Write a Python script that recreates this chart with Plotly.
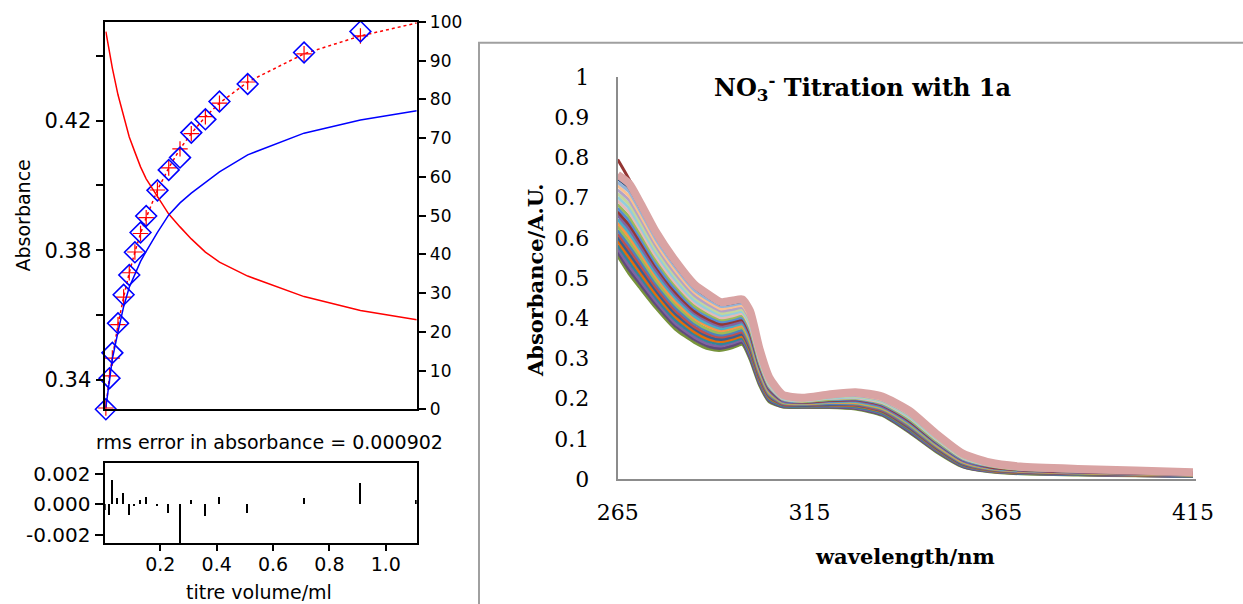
import plotly.graph_objects as go

# ---------------- left panel data (titration fit) ----------------
titre_ml = [0.007, 0.02, 0.03, 0.05, 0.07, 0.09, 0.11, 0.13, 0.15, 0.19, 0.23, 0.27,
            0.31, 0.36, 0.41, 0.51, 0.71, 0.91, 1.11]
abs_obs = [0.3310, 0.3406, 0.3484, 0.3575, 0.3663, 0.3724, 0.3794, 0.3855, 0.3906, 0.3985,
           0.4048, 0.4086, 0.4163, 0.4204, 0.4259, 0.4313, 0.4410, 0.4475, 0.4504]
abs_calc = [0.3314, 0.3413, 0.3468, 0.3571, 0.3656, 0.3731, 0.3795, 0.3852, 0.3901, 0.3986,
            0.4054, 0.4113, 0.4160, 0.4212, 0.4254, 0.4319, 0.4406, 0.4461, 0.4501]
residual = [-0.0004, -0.0007, 0.0016, 0.0004, 0.0007, -0.0007, -0.0001, 0.0003, 0.0005, -0.0001,
            -0.0006, -0.0027, 0.0003, -0.0008, 0.0005, -0.0006, 0.0004, 0.0014, 0.0003]
pct_free = [97.5, 91.7, 88.1, 81.2, 75.5, 70.3, 66.4, 62.6, 59.5, 55.1, 50.4, 47.1,
            44.0, 40.6, 38.0, 34.4, 29.1, 25.5, 23.1]
pct_complex = [0.5, 8.5, 13.0, 20.0, 26.5, 31.5, 35.0, 38.2, 40.8, 45.7, 50.2, 53.3,
               55.8, 58.5, 61.3, 65.7, 71.3, 74.7, 77.1]
abs_ticks = [0.34, 0.38, 0.42]
abs_ticktext = ["0.34", "0.38", "0.42"]
abs_minor_ticks = [0.36, 0.40, 0.44]
titre_ticks = [0.2, 0.4, 0.6, 0.8, 1.0]
titre_ticktext = ["0.2", "0.4", "0.6", "0.8", "1.0"]
resid_ticks = [-0.002, 0.0, 0.002]
resid_ticktext = ["-0.002", "0.000", "0.002"]

# ---------------- right panel data (UV-vis spectra, bottom -> top) ----------------
wavelength = [265, 268, 271, 275, 280, 285, 289, 292, 295, 297.5, 299.5, 302, 304.5, 308, 313,
              320, 327, 334, 341, 348, 355, 362, 370, 385, 400, 415]
spectra = [
    [.555,.510,.473,.425,.373,.340,.323,.320,.327,.335,.298,.233,.192,.179,.178,.178,.174,.158,.116,.068,.030,.018,.013,.010,.008,.006],
    [.564,.520,.483,.434,.381,.347,.329,.325,.332,.340,.303,.237,.195,.180,.179,.179,.176,.160,.118,.070,.031,.019,.014,.011,.009,.006],
    [.573,.530,.492,.442,.388,.353,.335,.331,.338,.345,.309,.241,.198,.182,.180,.181,.178,.162,.121,.072,.033,.020,.015,.011,.009,.007],
    [.582,.541,.502,.451,.396,.360,.341,.336,.343,.350,.314,.245,.200,.183,.181,.182,.180,.164,.123,.074,.034,.021,.015,.012,.010,.007],
    [.592,.551,.511,.459,.404,.366,.347,.342,.348,.355,.320,.249,.203,.185,.182,.184,.182,.167,.126,.076,.036,.022,.016,.013,.010,.008],
    [.601,.561,.521,.468,.411,.373,.353,.347,.353,.360,.325,.253,.206,.186,.183,.185,.184,.169,.128,.078,.037,.023,.017,.013,.011,.008],
    [.610,.571,.531,.476,.419,.379,.359,.353,.359,.365,.331,.257,.209,.187,.185,.187,.185,.171,.131,.080,.039,.024,.018,.014,.012,.009],
    [.619,.581,.540,.485,.427,.386,.365,.358,.364,.370,.336,.262,.211,.189,.186,.188,.187,.173,.133,.082,.040,.025,.019,.015,.012,.009],
    [.628,.591,.550,.493,.435,.392,.371,.363,.369,.376,.341,.266,.214,.190,.187,.190,.189,.175,.136,.084,.042,.026,.020,.015,.013,.010],
    [.637,.602,.559,.502,.442,.399,.378,.369,.375,.381,.347,.270,.217,.192,.188,.191,.191,.177,.138,.086,.043,.027,.020,.016,.013,.010],
    [.646,.612,.569,.510,.450,.405,.384,.374,.380,.386,.352,.274,.220,.193,.189,.192,.193,.179,.140,.088,.045,.028,.021,.017,.014,.011],
    [.656,.622,.578,.519,.458,.412,.390,.380,.385,.391,.358,.278,.222,.194,.190,.194,.195,.181,.143,.090,.046,.029,.022,.017,.014,.011],
    [.665,.632,.588,.528,.465,.418,.396,.385,.391,.396,.363,.282,.225,.196,.191,.195,.197,.184,.145,.092,.048,.030,.023,.018,.015,.012],
    [.674,.642,.598,.536,.473,.425,.402,.391,.396,.401,.369,.286,.228,.197,.192,.197,.199,.186,.148,.094,.049,.032,.024,.019,.016,.012],
    [.683,.652,.607,.545,.481,.431,.408,.396,.401,.406,.374,.290,.231,.199,.193,.198,.201,.188,.150,.096,.051,.033,.024,.020,.016,.013],
    [.692,.663,.617,.553,.488,.438,.414,.401,.406,.411,.379,.294,.233,.200,.194,.200,.202,.190,.153,.099,.052,.034,.025,.020,.017,.013],
    [.701,.673,.626,.562,.496,.444,.420,.407,.412,.416,.385,.298,.236,.201,.195,.201,.204,.192,.155,.101,.054,.035,.026,.021,.017,.014],
    [.710,.683,.636,.570,.504,.451,.426,.412,.417,.421,.390,.302,.239,.203,.196,.203,.206,.194,.158,.103,.055,.036,.027,.022,.018,.014],
    [.719,.693,.646,.579,.511,.457,.432,.418,.422,.426,.396,.306,.242,.204,.198,.204,.208,.196,.160,.105,.057,.037,.028,.022,.019,.015],
    [.729,.703,.655,.587,.519,.464,.438,.423,.428,.431,.401,.310,.244,.206,.199,.206,.210,.198,.162,.107,.058,.038,.028,.023,.019,.015],
    [.738,.714,.665,.596,.527,.470,.444,.429,.433,.436,.407,.314,.247,.207,.200,.207,.212,.201,.165,.109,.060,.039,.029,.024,.020,.016],
    [.747,.724,.674,.605,.534,.477,.450,.434,.438,.441,.412,.319,.250,.208,.201,.208,.214,.203,.167,.111,.061,.040,.030,.024,.020,.016],
]
spectra_colors = ["#77933C", "#604A7B", "#8064A2", "#31859C", "#E46C0A", "#376092", "#C0504D",
                  "#4F81BD", "#9BBB59", "#F79646", "#4BACC6", "#8064A2", "#953735", "#558ED5",
                  "#9BBB59", "#E6B9B8", "#93CDDD", "#C3D69B", "#B3A2C7", "#FAC090", "#95B3D7", "#1F497D"]
spectrum_brown = [.795,.745,.681,.610,.539,.480,.453,.436,.440,.443,.414,.319,.249,.206,.198,.206,.212,.201,.166,.109,.059,.037,.027,.021,.017,.013]
spectrum_top = [0.757, 0.735, 0.685, 0.614, 0.543, 0.484, 0.457, 0.440, 0.444, 0.447, 0.418, 0.323, 0.253,
                0.210, 0.202, 0.210, 0.216, 0.205, 0.170, 0.113, 0.063, 0.041, 0.031, 0.025, 0.021, 0.017]
wl_ticks = [265, 315, 365, 415]

W, H = 1243, 604


def px_x(a, b):
    return [a / W, b / W]


def px_y(top, bottom):
    return [1 - bottom / H, 1 - top / H]


LFONT = "DejaVu Sans"
RFONT = "DejaVu Serif"

fig = go.Figure()

# left, top plot
fig.add_trace(go.Scatter(x=titre_ml, y=pct_free, xaxis="x", yaxis="y2", mode="lines",
                         line=dict(color="red", width=1.5), showlegend=False))
fig.add_trace(go.Scatter(x=titre_ml, y=pct_complex, xaxis="x", yaxis="y2", mode="lines",
                         line=dict(color="blue", width=1.5), showlegend=False))
fig.add_trace(go.Scatter(x=titre_ml, y=abs_calc, xaxis="x", yaxis="y", mode="lines+markers",
                         line=dict(color="red", width=1.5, dash="dot"),
                         marker=dict(symbol="cross-thin-open", size=11, line=dict(color="red", width=1.2)),
                         cliponaxis=False, showlegend=False))
fig.add_trace(go.Scatter(x=titre_ml, y=abs_obs, xaxis="x", yaxis="y", mode="markers",
                         marker=dict(symbol="diamond-open", size=16, color="blue", line=dict(color="blue", width=1.6)),
                         cliponaxis=False, showlegend=False))
# residuals
fig.add_trace(go.Bar(x=titre_ml, y=residual, xaxis="x2", yaxis="y3", width=0.005,
                     marker=dict(color="black", line=dict(width=0)), showlegend=False))

# right panel spectra
for ys, c in zip(spectra, spectra_colors):
    fig.add_trace(go.Scatter(x=wavelength, y=ys, xaxis="x3", yaxis="y4", mode="lines",
                             line=dict(color=c, width=3, shape="spline", smoothing=0.6), showlegend=False))
fig.add_trace(go.Scatter(x=wavelength, y=spectrum_brown, xaxis="x3", yaxis="y4", mode="lines",
                         line=dict(color="#943634", width=3, shape="spline", smoothing=0.6), showlegend=False))
fig.add_trace(go.Scatter(x=wavelength, y=spectrum_top, xaxis="x3", yaxis="y4", mode="lines",
                         line=dict(color="#D9A3A3", width=8, shape="spline", smoothing=0.6), showlegend=False))

left_ax = dict(showline=True, linecolor="black", linewidth=1.5, showgrid=False, zeroline=False,
               tickcolor="black", automargin=False)
titre_range = [0.005, 1.1096]

fig.update_layout(
    width=W, height=H, margin=dict(l=0, r=0, t=0, b=0, autoexpand=False),
    paper_bgcolor="white", plot_bgcolor="white", showlegend=False, bargap=0,
    xaxis=dict(domain=px_x(105.3, 416.7), anchor="y", range=titre_range, showticklabels=False,
               ticks="", mirror=True, **left_ax),
    yaxis=dict(domain=px_y(22, 409.3), anchor="x", range=[0.3310, 0.4504], tickvals=abs_ticks,
               ticktext=abs_ticktext, ticks="outside", ticklen=8, tickwidth=1.5,
               minor=dict(tickvals=abs_minor_ticks, ticks="outside", ticklen=8, tickwidth=1.5,
                          tickcolor="black", showgrid=False),
               tickfont=dict(family=LFONT, color="black", size=21), **left_ax),
    yaxis2=dict(domain=px_y(22, 409.3), anchor="x", overlaying="y", side="right", range=[0, 100],
                dtick=10, ticks="outside", ticklen=8, tickwidth=1.5,
                tickfont=dict(family=LFONT, color="black", size=17), **left_ax),
    xaxis2=dict(domain=px_x(105.3, 416.7), anchor="y3", range=titre_range, tickvals=titre_ticks,
                ticktext=titre_ticktext, ticks="outside", ticklen=6, tickwidth=1.5, mirror=True,
                ticklabelstandoff=-3, tickfont=dict(family=LFONT, color="black", size=19), **left_ax),
    yaxis3=dict(domain=px_y(463.3, 543.3), anchor="x2", range=[-0.00258, 0.00272], tickvals=resid_ticks,
                ticktext=resid_ticktext, ticks="outside", ticklen=9, tickwidth=1.5, mirror=True,
                tickfont=dict(family=LFONT, color="black", size=20), **left_ax),
    xaxis3=dict(domain=px_x(617.7, 1196), anchor="y4", range=[265, 415.8], tickvals=wl_ticks,
                showline=True, linecolor="#8C8C8C", linewidth=2, showgrid=False, zeroline=False,
                automargin=False, ticks="", ticklabelstandoff=13,
                tickfont=dict(family=RFONT, color="black", size=22)),
    yaxis4=dict(domain=px_y(77, 479), anchor="x3", range=[0, 1], dtick=0.1,
                showline=True, linecolor="#8C8C8C", linewidth=2, showgrid=False, zeroline=False,
                automargin=False, ticks="", ticklabelstandoff=22,
                tickfont=dict(family=RFONT, color="black", size=22)),
)

annotations = [
    dict(text="Absorbance", x=22.5 / W, y=1 - 216 / H, textangle=-90,
         font=dict(family=LFONT, size=19, color="black")),
    dict(text="rms error in absorbance = 0.000902", x=269.5 / W, y=1 - 441.7 / H,
         font=dict(family=LFONT, size=19, color="black")),
    dict(text="titre volume/ml", x=259 / W, y=1 - 592 / H,
         font=dict(family=LFONT, size=19, color="black")),
    dict(text="<b>NO<sub>3</sub><sup>-</sup> Titration with 1a</b>", x=862 / W, y=1 - 88 / H,
         font=dict(family=RFONT, size=24, color="black")),
    dict(text="<b>Absorbance/A.U.</b>", x=536 / W, y=1 - 280 / H, textangle=-90,
         font=dict(family=RFONT, size=21, color="black")),
    dict(text="<b>wavelength/nm</b>", x=905 / W, y=1 - 556 / H,
         font=dict(family=RFONT, size=21, color="black")),
]
for a in annotations:
    a.update(xref="paper", yref="paper", showarrow=False, xanchor="center", yanchor="middle")
fig.update_layout(annotations=annotations)

fig.add_shape(type="rect", xref="paper", yref="paper", x0=479 / W, x1=1.2, y0=-0.2, y1=1 - 42.7 / H,
              line=dict(color="#A0A0A0", width=2), fillcolor="rgba(0,0,0,0)", layer="below")

fig.write_html("out.html")
